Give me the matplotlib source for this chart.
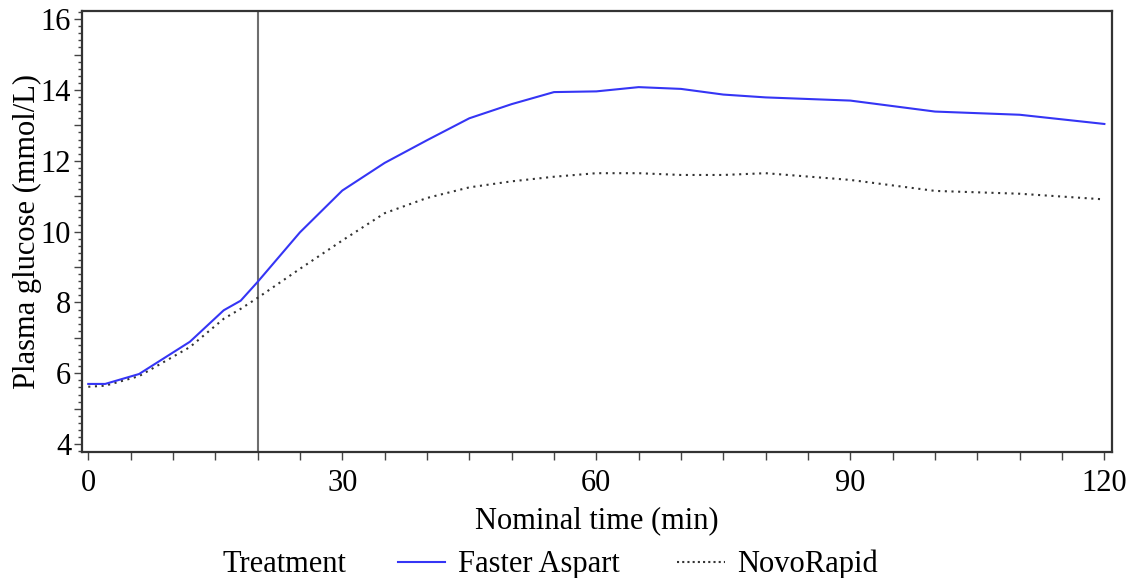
import numpy as np
import matplotlib.pyplot as plt
from matplotlib.ticker import MultipleLocator, FuncFormatter
from matplotlib.lines import Line2D

plt.rcParams['font.family'] = ['Liberation Serif', 'DejaVu Serif']

# nominal time (min) and mean plasma glucose (mmol/L)
time_fa = [0, 2, 6, 12, 16, 18, 20, 25, 30, 35, 40, 45, 50, 55, 60, 65, 70, 75, 80, 90, 100, 110, 120]
glu_fa = [5.70, 5.70, 5.98, 6.89, 7.78, 8.05, 8.58, 9.98, 11.16, 11.94, 12.58, 13.20, 13.60, 13.94,
          13.96, 14.08, 14.03, 13.87, 13.79, 13.70, 13.39, 13.30, 13.04]

time_nr = [0, 2, 6, 12, 16, 18, 20, 25, 30, 35, 40, 45, 50, 55, 60, 65, 70, 75, 80, 90, 100, 110, 120]
glu_nr = [5.62, 5.65, 5.92, 6.74, 7.54, 7.82, 8.13, 8.95, 9.75, 10.52, 10.95, 11.25, 11.42, 11.55,
          11.65, 11.65, 11.60, 11.60, 11.65, 11.46, 11.15, 11.07, 10.91]

meal_time = 20

COLOR_FA = '#3535F5'
COLOR_NR = '#333333'
FS = 22

fig = plt.figure(figsize=(11.34, 5.78), dpi=100)
ax = fig.add_axes([0.0726, 0.2175, 0.908, 0.7635])

ax.axvline(meal_time, color='#6e6e6e', lw=1.5, zorder=1)
ax.plot(time_fa, glu_fa, color=COLOR_FA, lw=1.5, label='Faster Aspart', zorder=3)
ax.plot(time_nr, glu_nr, color=COLOR_NR, lw=1.5, ls=(0, (1, 2.2)), label='NovoRapid', zorder=2)

ax.set_xlim(-0.7, 120.9)
ax.set_ylim(3.77, 16.23)
ax.xaxis.set_major_locator(MultipleLocator(30))
ax.xaxis.set_minor_locator(MultipleLocator(5))
# ticks every unit, labels only on even values
ax.yaxis.set_major_locator(MultipleLocator(1))
ax.yaxis.set_major_formatter(FuncFormatter(lambda v, p: f'{v:.0f}' if round(v) % 2 == 0 else ''))
ax.yaxis.set_minor_locator(MultipleLocator(0.2))
ax.tick_params(axis='both', which='major', labelsize=FS, length=6, width=1, color='#444444')
ax.tick_params(axis='x', which='minor', length=6, width=1, color='#444444')
ax.tick_params(axis='y', which='minor', length=3, width=1, color='#444444')
ax.tick_params(axis='x', pad=6)
ax.tick_params(axis='y', pad=2)
for s in ax.spines.values():
    s.set_linewidth(1.6)
    s.set_color('#333333')

ax.set_xlabel('Nominal time (min)', fontsize=FS, labelpad=6)
ax.set_ylabel('Plasma glucose (mmol/L)', fontsize=FS, labelpad=-1)

fig.text(0.196, 0.023, 'Treatment', fontsize=FS, ha='left', va='center')
handles = [Line2D([], [], color=COLOR_FA, lw=1.5),
           Line2D([], [], color=COLOR_NR, lw=1.5, ls=(0, (1, 1.5)))]
fig.legend(handles, ['Faster Aspart', 'NovoRapid'], loc='center left',
           bbox_to_anchor=(0.351, 0.023), ncol=2, frameon=False, fontsize=FS,
           handlelength=1.55, handletextpad=0.4, columnspacing=1.9, borderpad=0,
           borderaxespad=0)

fig.savefig('out.png', dpi=100)
